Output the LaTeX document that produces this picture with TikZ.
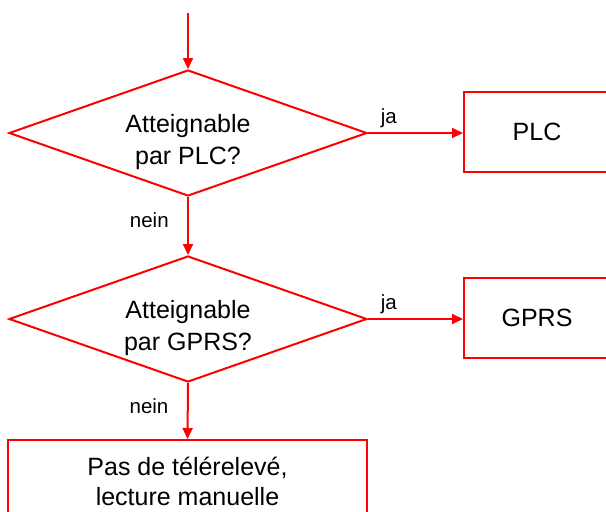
\documentclass[tikz,border=0pt]{standalone}
\usepackage{fontspec}
\setmainfont{Liberation Sans}
\usetikzlibrary{shapes.geometric,arrows.meta}

\begin{document}
\begin{tikzpicture}[x=1pt,y=-1pt,
  line width=2pt,
  decision/.style={diamond,draw=red,minimum width=358pt,minimum height=126pt,aspect=2.84,inner sep=0pt},
  outcome/.style={rectangle,draw=red,inner sep=0pt},
  body/.style={font=\fontsize{25}{32}\selectfont,align=center,text=black},
  small/.style={font=\fontsize{20.5}{24}\selectfont,text=black},
  flow/.style={draw=red,-{Triangle[length=11pt,width=10pt]}}]
\useasboundingbox (0,0) rectangle (606,512);
\clip (0,0) rectangle (606,512);

% entry point of the flow
\coordinate (start) at (188,13);

% decisions
\node[decision] (d1) at (188,133) {};
\node[body] (q1) at (188,142) {Atteignable\\par PLC?};
\node[decision] (d2) at (188,319) {};
\node[body] (q2) at (188,328) {Atteignable\\par GPRS?};

% outcomes
\node[outcome,minimum width=146pt,minimum height=80pt] (plc) at (537,132) {};
\node[body] at (plc.center) {PLC};
\node[outcome,minimum width=146pt,minimum height=80pt] (gprs) at (537,318) {};
\node[body] at (gprs.center) {GPRS};
\node[outcome,minimum width=359pt,minimum height=80pt] (manual) at (187.5,480) {};
\node[body,font=\fontsize{25}{30}\selectfont] at (187.5,481) {Pas de télérelevé,\\lecture manuelle};

% connectors
\draw[flow] (start) -- (d1.north);
\draw[flow] (d1.east) -- node[small,anchor=base,pos=0.22,yshift=10pt] {ja} (d1.east -| plc.west);
\draw[flow] (d1.south) -- node[small,anchor=base east,pos=0.52,xshift=-15pt] {nein} (d2.north);
\draw[flow] (d2.east) -- node[small,anchor=base,pos=0.22,yshift=10pt] {ja} (d2.east -| gprs.west);
\draw[flow] (d2.south) -- node[small,anchor=base east,pos=0.54,xshift=-15pt] {nein} (manual.north);
\end{tikzpicture}
\end{document}
